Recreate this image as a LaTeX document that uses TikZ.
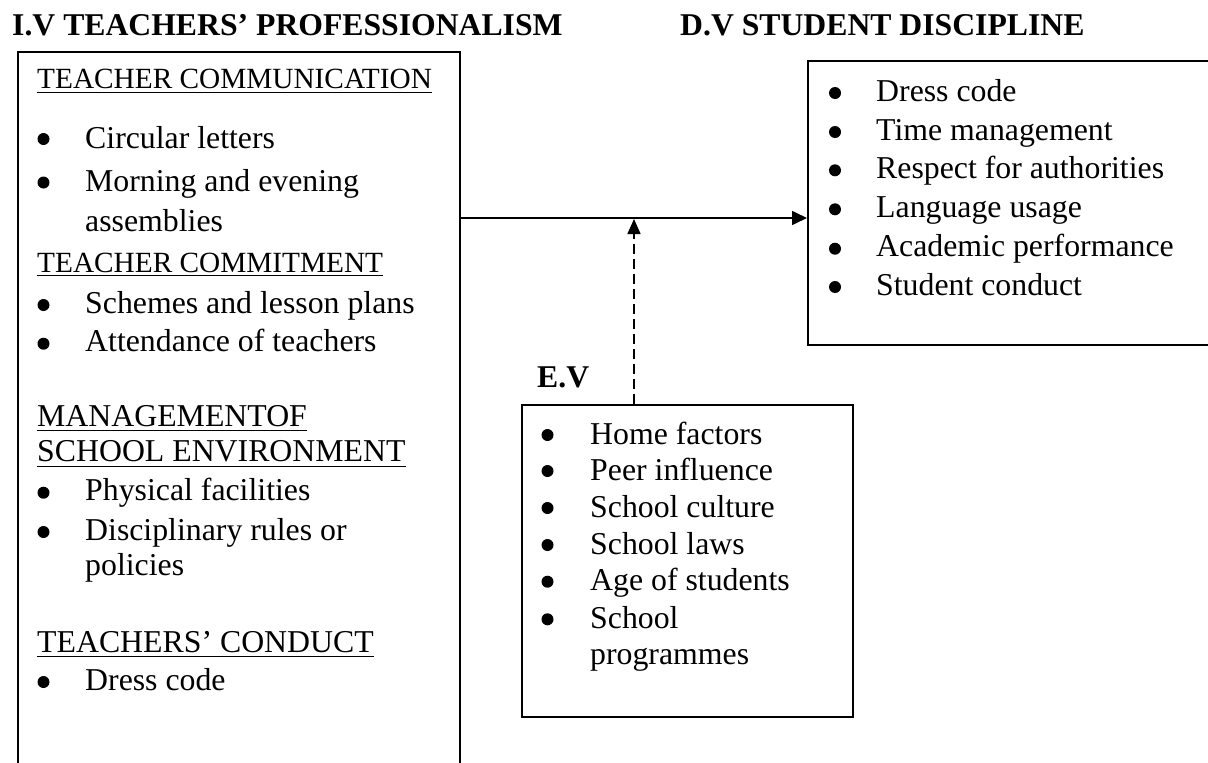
\documentclass[tikz,border=0pt]{standalone}
\usepackage{fontspec}
\setmainfont{Liberation Serif}
\usetikzlibrary{arrows.meta}
\begin{document}
\begin{tikzpicture}[x=1pt,y=-1pt,
  txt/.style={anchor=base west, inner sep=0pt, font=\fontsize{31.8}{38}\selectfont},
  hsm/.style={anchor=base west, inner sep=0pt, font=\fontsize{29.3}{35}\selectfont},
  ttl/.style={anchor=base west, inner sep=0pt, font=\fontsize{31.7}{38}\selectfont\bfseries},
  bx/.style={draw, line width=1.6pt, anchor=north west, inner sep=0pt},
  bul/.style={circle, fill, inner sep=0pt, minimum size=12pt},
  ul/.style={line width=1.3pt},
  link/.style={line width=1.6pt, -{Triangle[length=15pt,width=14pt]}},
  dlink/.style={line width=1.6pt, dash pattern=on 10pt off 5pt, -{Triangle[length=15pt,width=13pt]}},
]
\useasboundingbox (0,0) rectangle (1208,763);
\fill[white] (0,0) rectangle (1208,763);
\clip (0,0) rectangle (1208,763);

% titles
\node[ttl] (t1) at (12,35) {I.V TEACHERS’ PROFESSIONALISM};
\node[ttl] (t2) at (680,35) {D.V STUDENT DISCIPLINE};
\node[ttl] (t3) at (537,387) {E.V};

% boxes
\node[bx, minimum width=442pt, minimum height=780pt] (iv) at (17,51) {};
\node[bx, minimum width=420pt, minimum height=284pt] (dv) at (807,60) {};
\node[bx, minimum width=331pt, minimum height=312pt] (ev) at (521,404) {};

% left box contents
\node[hsm] (h1) at (37,88.3) {TEACHER COMMUNICATION};
\draw[ul] ([yshift=-4.5pt]h1.base west) -- ([yshift=-4.5pt]h1.base east);
\node[bul] (l1b) at (43.5,139) {};
\node[txt] (l1) at (85,148.3) {Circular letters};
\node[bul] (l2b) at (43.5,182.5) {};
\node[txt] (l2) at (85,191.7) {Morning and evening};
\node[txt] (l2c) at (85,231.7) {assemblies};

\node[hsm] (h2) at (37,272.5) {TEACHER COMMITMENT};
\draw[ul] ([yshift=-3pt]h2.base west) -- ([yshift=-3pt]h2.base east);
\node[bul] (l3b) at (43.5,305) {};
\node[txt] (l3) at (85,313) {Schemes and lesson plans};
\node[bul] (l4b) at (43.5,343.7) {};
\node[txt] (l4) at (85,351.7) {Attendance of teachers};

\node[txt] (h3) at (37,426) {MANAGEMENTOF};
\draw[ul] ([yshift=-4.5pt]h3.base west) -- ([yshift=-4.5pt]h3.base east);
\node[txt] (h3b) at (37,461.7) {SCHOOL ENVIRONMENT};
\draw[ul] ([yshift=-4.5pt]h3b.base west) -- ([yshift=-4.5pt]h3b.base east);
\node[bul] (l5b) at (43.5,492.7) {};
\node[txt] (l5) at (85,500.7) {Physical facilities};
\node[bul] (l6b) at (43.5,532) {};
\node[txt] (l6) at (85,540) {Disciplinary rules or};
\node[txt] (l6c) at (85,575) {policies};

\node[txt] (h4) at (37,652.7) {TEACHERS’ CONDUCT};
\draw[ul] ([yshift=-3.5pt]h4.base west) -- ([yshift=-3.5pt]h4.base east);
\node[bul] (l7b) at (43.5,682) {};
\node[txt] (l7) at (85,690) {Dress code};

% right box contents
\node[bul] (r1b) at (835,93) {};
\node[txt] (r1) at (876,101) {Dress code};
\node[bul] (r2b) at (835,132) {};
\node[txt] (r2) at (876,140) {Time management};
\node[bul] (r3b) at (835,170.3) {};
\node[txt] (r3) at (876,178.3) {Respect for authorities};
\node[bul] (r4b) at (835,209.3) {};
\node[txt] (r4) at (876,217.3) {Language usage};
\node[bul] (r5b) at (835,248.7) {};
\node[txt] (r5) at (876,256.7) {Academic performance};
\node[bul] (r6b) at (835,287) {};
\node[txt] (r6) at (876,295) {Student conduct};

% E.V box contents
\node[bul] (e1b) at (547.5,435) {};
\node[txt] (e1) at (590,444) {Home factors};
\node[bul] (e2b) at (547.5,471) {};
\node[txt] (e2) at (590,480) {Peer influence};
\node[bul] (e3b) at (547.5,508) {};
\node[txt] (e3) at (590,517) {School culture};
\node[bul] (e4b) at (547.5,545) {};
\node[txt] (e4) at (590,554) {School laws};
\node[bul] (e5b) at (547.5,581.7) {};
\node[txt] (e5) at (590,590.7) {Age of students};
\node[bul] (e6b) at (547.5,619.3) {};
\node[txt] (e6) at (590,628.3) {School};
\node[txt] (e6c) at (590,664) {programmes};

% connectors
\coordinate (m) at (634,218);
\draw[link] (iv.east |- m) -- (dv.west |- m);
\draw[dlink] (ev.north -| m) -- ([yshift=-1pt]m);
\end{tikzpicture}
\end{document}
